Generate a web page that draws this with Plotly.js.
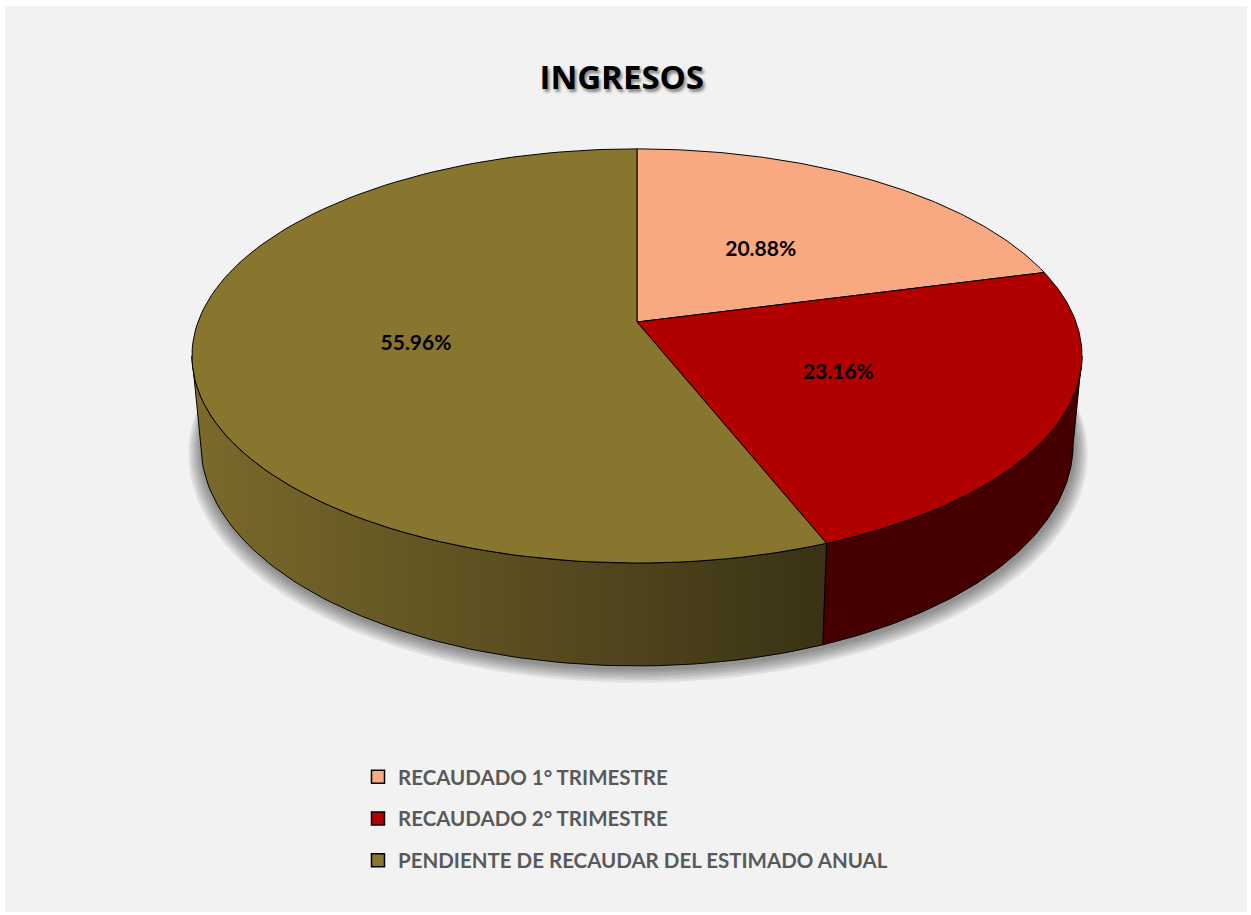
<!DOCTYPE html>
<html>
<head>
<meta charset="utf-8">
<script src="https://cdn.plot.ly/plotly-3.0.1.min.js"></script>
<style>html,body{margin:0;padding:0;background:#fff;}#chart{width:1251px;height:915px;}</style>
</head>
<body>
<div id="chart"></div>
<script>
// ---- data ----
const labels = ['RECAUDADO 1° TRIMESTRE', 'RECAUDADO 2° TRIMESTRE', 'PENDIENTE DE RECAUDAR DEL ESTIMADO ANUAL'];
const values = [20.88, 23.16, 55.96];
const pctText = ['20.88%', '23.16%', '55.96%'];
const topColors = ['#f9a981', '#b00000', '#88762e'];
const sideColors = ['#7c4a33', '#470000', '#5a4d20'];
const sideGradients = [null, null, [[0, '#7b6a2b'], [1, '#3a3215']]];
const chartTitle = 'INGRESOS';

// ---- 3D pie projection (layout geometry) ----
const W = 1251, H = 915;
const cx = 637, cy = 322, kx = 439, ky = 201.5, persp = 0.164, depth = 86, bottomShrink = 0.98;
const deg = Math.PI / 180;
function proj(tDeg, r, z) {
  const t = tDeg * deg;
  const X = r * Math.sin(t), Y = -r * Math.cos(t);
  const w = 1 - persp * Y;
  const s = z > 0 ? bottomShrink : 1;
  return [cx + s * kx * X / w, cy + (ky * Y + z) / w];
}
function arc(a0, a1, r, z, n) {
  const pts = [];
  for (let i = 0; i <= n; i++) pts.push(proj(a0 + (a1 - a0) * i / n, r, z));
  return pts;
}
const total = values.reduce((a, b) => a + b, 0);
const angles = [];
let acc = 0;
values.forEach(v => { const a0 = acc / total * 360; acc += v; angles.push([a0, acc / total * 360]); });

const traces = [];
const base = {type: 'scatter', mode: 'lines', hoverinfo: 'skip', showlegend: false};

// soft shadow under the pie
for (let k = 6; k >= 1; k--) {
  const pts = arc(0, 360, 1 + k * 0.005, depth, 180).map(p => [p[0] + 1, p[1] + 2 + k * 0.9]);
  traces.push(Object.assign({}, base, {
    x: pts.map(p => p[0]), y: pts.map(p => p[1]), fill: 'toself',
    fillcolor: 'rgba(0,0,0,0.08)', line: {width: 0}
  }));
}

// visible sides
const tR = Math.acos(-persp) / deg, tL = 360 - tR;
angles.forEach((a, i) => {
  const s0 = Math.max(a[0], tR), s1 = Math.min(a[1], tL);
  if (s1 <= s0) return;
  const topE = arc(s0, s1, 1, 0, 80);
  const botE = arc(s1, s0, 1, depth, 80);
  const pts = topE.concat(botE, [topE[0]]);
  const tr = Object.assign({}, base, {
    x: pts.map(p => p[0]), y: pts.map(p => p[1]), fill: 'toself',
    fillcolor: sideColors[i], line: {color: '#000', width: 1}
  });
  if (sideGradients[i]) tr.fillgradient = {type: 'horizontal', colorscale: sideGradients[i]};
  traces.push(tr);
});

// top faces
angles.forEach((a, i) => {
  const pts = [[cx, cy]].concat(arc(a[0], a[1], 1, 0, 120), [[cx, cy]]);
  traces.push(Object.assign({}, base, {
    x: pts.map(p => p[0]), y: pts.map(p => p[1]), fill: 'toself',
    fillcolor: topColors[i], line: {color: '#000', width: 1}
  }));
});

// data labels
const lp = angles.map(a => proj((a[0] + a[1]) / 2, 0.5, 0));
traces.push({
  type: 'scatter', mode: 'text', hoverinfo: 'skip', showlegend: false,
  x: lp.map(p => p[0] - 2), y: lp.map(p => p[1] + 4), text: pctText,
  textposition: 'middle center',
  textfont: {family: 'Lato, "Open Sans", sans-serif', size: 21, color: '#000', weight: 'bold'}
});

// legend entries
labels.forEach((lab, i) => {
  traces.push({
    type: 'scatter', mode: 'markers', x: [null], y: [null], name: lab,
    legendgroup: 'g' + i, hoverinfo: 'skip',
    marker: {symbol: 'square', size: 13, color: topColors[i], line: {color: '#000', width: 1.5}}
  });
});

const layout = {
  width: W, height: H,
  margin: {l: 0, r: 0, t: 0, b: 0},
  paper_bgcolor: '#ffffff', plot_bgcolor: 'rgba(0,0,0,0)',
  xaxis: {range: [0, W], visible: false, fixedrange: true},
  yaxis: {range: [H, 0], visible: false, fixedrange: true},
  showlegend: true,
  legend: {
    x: 358 / W, y: 1 - 757 / H, xanchor: 'left', yanchor: 'top',
    bgcolor: 'rgba(0,0,0,0)', traceorder: 'grouped', tracegroupgap: 12,
    font: {family: 'Lato, "Open Sans", sans-serif', size: 20.5, color: '#595959', weight: 'bold'}
  },
  title: {
    text: '<b>' + chartTitle + '</b>', x: 0.497, xanchor: 'center', y: 1 - 77 / H, yanchor: 'middle',
    font: {family: '"Open Sans", Lato, sans-serif', size: 33, color: '#000', shadow: '2px 3px 3px rgba(0,0,0,0.45)'}
  },
  shapes: [{
    type: 'rect', xref: 'paper', yref: 'paper', x0: 5 / W, x1: 1247 / W, y0: 1 - 912 / H, y1: 1 - 6 / H,
    fillcolor: '#f2f2f2', line: {width: 0}, layer: 'below'
  }]
};

Plotly.newPlot('chart', traces, layout, {displayModeBar: false, staticPlot: true});
</script>
</body>
</html>
